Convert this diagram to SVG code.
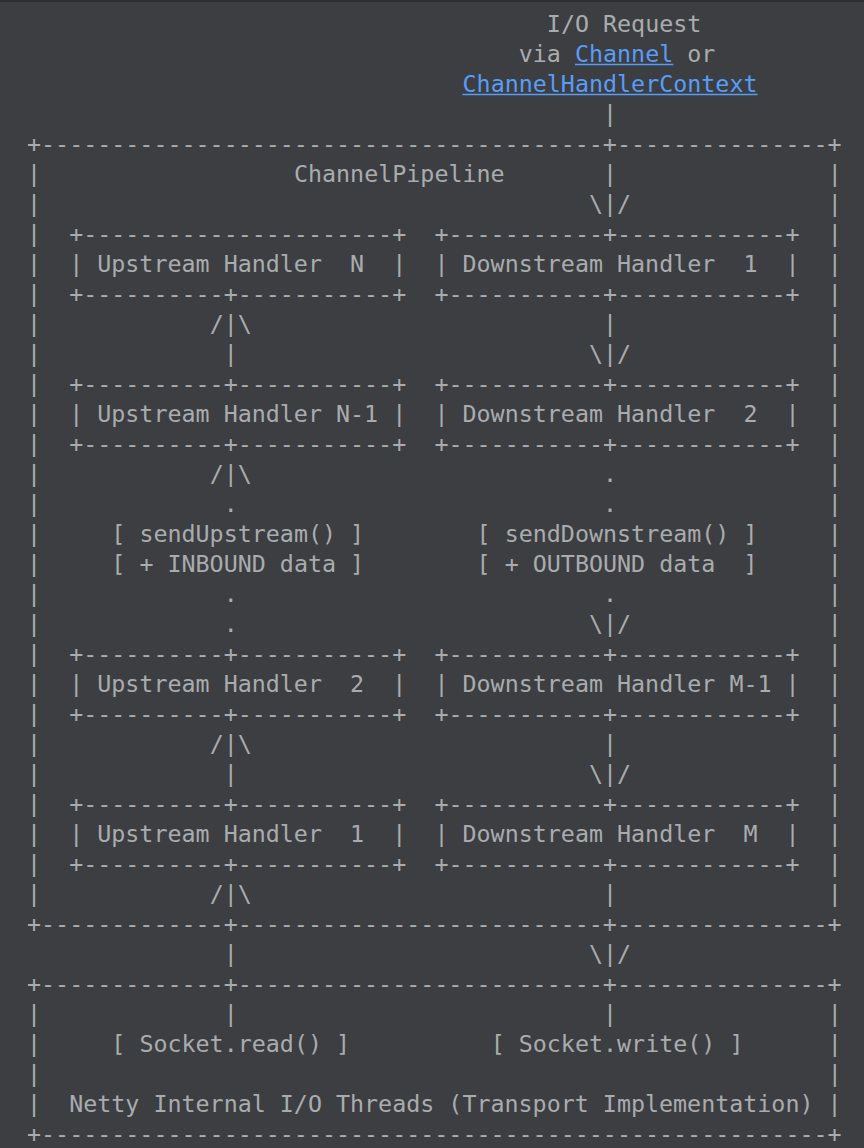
<svg xmlns="http://www.w3.org/2000/svg" width="864" height="1148" viewBox="0 0 864 1148" xml:space="preserve">
<style>
text { font-family: "DejaVu Sans Mono", "Liberation Mono", monospace; font-size: 23.33px; fill: #a9acae; white-space: pre; }
text.link { fill: #589df6; }
line.ul { stroke: #589df6; stroke-width: 1.5; }
</style>
<rect x="0" y="0" width="864" height="1148" fill="#3d3e41"/>
<rect x="0" y="0" width="864" height="2" fill="#2c2d2f"/>
<g id="io-request">
<text x="546.85" y="32">I/O Request</text>
<text x="518.75" y="62">via <tspan class="link" fill="#589df6">Channel</tspan> or</text>
<line class="ul" x1="574.95" y1="64.5" x2="673.3" y2="64.5"/>
<text class="link" x="462.55" y="92">ChannelHandlerContext</text>
<line class="ul" x1="462.55" y1="94.5" x2="757.6" y2="94.5"/>
</g>
<g id="channel-pipeline">
<text x="27" y="152">+----------------------------------------+---------------+</text>
<text x="293.95" y="182">ChannelPipeline</text>
<text x="27 27 27 27 27 27 27 27 27 27 27 27 27 27 27 27 27 27 27 27 27 27 27 27 27" y="182 212 242 272 302 332 362 392 422 452 482 512 542 572 602 632 662 692 722 752 782 812 842 872 902">|||||||||||||||||||||||||</text>
<text x="827.85 827.85 827.85 827.85 827.85 827.85 827.85 827.85 827.85 827.85 827.85 827.85 827.85 827.85 827.85 827.85 827.85 827.85 827.85 827.85 827.85 827.85 827.85 827.85 827.85" y="182 212 242 272 302 332 362 392 422 452 482 512 542 572 602 632 662 692 722 752 782 812 842 872 902">|||||||||||||||||||||||||</text>
<text x="27" y="932">+-------------+--------------------------+---------------+</text>
</g>
<g id="upstream-handler-n">
<text x="69.15" y="242">+----------------------+</text>
<text x="69.15" y="272">| Upstream Handler  N  |</text>
<text x="69.15" y="302">+----------+-----------+</text>
</g>
<g id="downstream-handler-1">
<text x="434.45" y="242">+-----------+------------+</text>
<text x="434.45" y="272">| Downstream Handler  1  |</text>
<text x="434.45" y="302">+-----------+------------+</text>
</g>
<g id="upstream-handler-n-1">
<text x="69.15" y="392">+----------+-----------+</text>
<text x="69.15" y="422">| Upstream Handler N-1 |</text>
<text x="69.15" y="452">+----------+-----------+</text>
</g>
<g id="downstream-handler-2">
<text x="434.45" y="392">+-----------+------------+</text>
<text x="434.45" y="422">| Downstream Handler  2  |</text>
<text x="434.45" y="452">+-----------+------------+</text>
</g>
<g id="send-upstream">
<text x="111.3" y="542">[ sendUpstream() ]</text>
<text x="111.3" y="572">[ + INBOUND data ]</text>
</g>
<g id="send-downstream">
<text x="476.6" y="542">[ sendDownstream() ]</text>
<text x="476.6" y="572">[ + OUTBOUND data  ]</text>
</g>
<g id="upstream-handler-2">
<text x="69.15" y="662">+----------+-----------+</text>
<text x="69.15" y="692">| Upstream Handler  2  |</text>
<text x="69.15" y="722">+----------+-----------+</text>
</g>
<g id="downstream-handler-m-1">
<text x="434.45" y="662">+-----------+------------+</text>
<text x="434.45" y="692">| Downstream Handler M-1 |</text>
<text x="434.45" y="722">+-----------+------------+</text>
</g>
<g id="upstream-handler-1">
<text x="69.15" y="812">+----------+-----------+</text>
<text x="69.15" y="842">| Upstream Handler  1  |</text>
<text x="69.15" y="872">+----------+-----------+</text>
</g>
<g id="downstream-handler-m">
<text x="434.45" y="812">+-----------+------------+</text>
<text x="434.45" y="842">| Downstream Handler  M  |</text>
<text x="434.45" y="872">+-----------+------------+</text>
</g>
<g id="transport">
<text x="27" y="992">+-------------+--------------------------+---------------+</text>
<text x="27 27 27" y="1022 1052 1082">|||</text>
<text x="827.85 827.85 827.85" y="1022 1052 1082">|||</text>
<text x="111.3" y="1052">[ Socket.read() ]</text>
<text x="490.65" y="1052">[ Socket.write() ]</text>
<text x="27" y="1112">|  Netty Internal I/O Threads (Transport Implementation) |</text>
<text x="27" y="1142">+--------------------------------------------------------+</text>
</g>
<g id="connectors">
<text x="603.05" y="122">|</text>
<text x="603.05" y="182">|</text>
<text x="589" y="212">\|/</text>
<text x="209.65" y="332">/|\</text>
<text x="603.05" y="332">|</text>
<text x="223.7" y="362">|</text>
<text x="589" y="362">\|/</text>
<text x="209.65" y="482">/|\</text>
<text x="603.05" y="482">.</text>
<text x="223.7" y="512">.</text>
<text x="603.05" y="512">.</text>
<text x="223.7" y="602">.</text>
<text x="603.05" y="602">.</text>
<text x="223.7" y="632">.</text>
<text x="589" y="632">\|/</text>
<text x="209.65" y="752">/|\</text>
<text x="603.05" y="752">|</text>
<text x="223.7" y="782">|</text>
<text x="589" y="782">\|/</text>
<text x="209.65" y="902">/|\</text>
<text x="603.05" y="902">|</text>
<text x="223.7" y="962">|</text>
<text x="589" y="962">\|/</text>
<text x="223.7" y="1022">|</text>
<text x="603.05" y="1022">|</text>
</g>
</svg>
